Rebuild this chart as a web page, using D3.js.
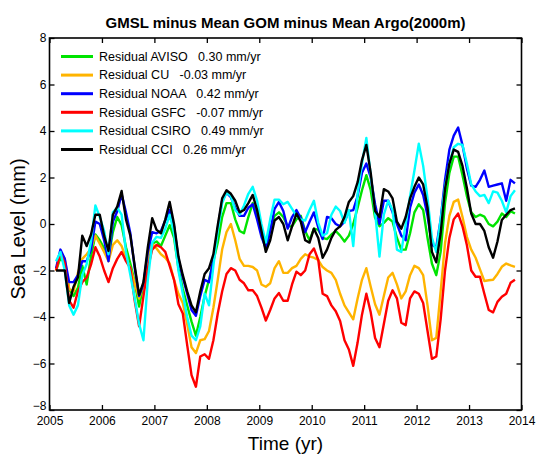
<!DOCTYPE html>
<html><head><meta charset="utf-8">
<script src="https://cdn.jsdelivr.net/npm/d3@7"></script>
<style>
body{margin:0;background:#fff}
svg{display:block}
text{font-family:"Liberation Sans",Arial,Helvetica,sans-serif;fill:#000}
</style>
</head><body>
<svg id="chart" width="536" height="454"></svg>
<script>
// ---- data (monthly, starting Feb 2005) ----
const startYear = 2005.125;
const seriesNames = ["AVISO", "CU", "NOAA", "GSFC", "CSIRO", "CCI"];
const trendLabels = ["0.30 mm/yr", "-0.03 mm/yr", "0.42 mm/yr", "-0.07 mm/yr", "0.49 mm/yr", "0.26 mm/yr"];
const seriesColors = ["#00e400", "#ffb400", "#0000ff", "#ff0000", "#00ffff", "#000000"];

const aviso = [-2.0,-1.45,-1.7,-2.8,-3.1,-2.75,-1.8,-2.6,-1.4,-0.45,
  -0.7,-1.05,-1.45,-0.35,0.3,-0.05,-1.0,-1.7,-2.5,-3.55,
  -2.6,-1.4,-0.85,-0.75,-0.95,-0.5,-0.05,-0.6,-1.9,-2.8,
  -3.5,-4.2,-4.8,-4.0,-3.1,-2.4,-1.6,-0.8,0.3,0.9,
  0.9,0.2,-0.3,-0.4,0.3,0.9,0.4,-0.2,-0.95,-0.2,
  0.35,0.5,0.3,-0.1,-0.1,0.2,0.35,-0.3,-0.7,-0.2,
  -0.25,-0.6,-0.65,-0.45,-0.3,-0.5,-0.75,-0.5,0.0,0.7,
  1.45,2.1,1.45,0.27,-0.1,0.05,0.25,0.1,-0.6,-1.1,
  -1.1,-0.4,0.5,0.85,0.6,-0.6,-1.7,-2.2,-1.2,0.9,
  2.2,2.9,2.9,2.1,1.2,0.5,0.3,0.4,0.32,0.0,
  -0.1,0.1,0.45,0.3,0.55,0.45];

const cu = [-2.0,-1.2,-1.5,-2.8,-2.9,-2.1,-1.5,-1.3,-1.05,-0.5,
  -0.85,-1.2,-1.6,-0.9,-0.7,-0.95,-1.45,-1.9,-2.55,-3.2,
  -2.6,-1.4,-0.85,-1.05,-1.3,-1.45,-1.7,-2.4,-3.0,-3.4,
  -4.3,-5.3,-5.55,-5.0,-4.95,-4.6,-3.6,-2.4,-1.1,-0.35,
  0.0,-0.7,-1.5,-1.8,-1.8,-1.85,-2.0,-2.6,-2.7,-2.55,
  -1.9,-1.6,-2.1,-2.1,-1.9,-1.8,-1.5,-1.3,-1.4,-1.45,
  -1.55,-1.85,-2.0,-2.1,-2.4,-3.0,-3.5,-3.8,-4.1,-3.2,
  -2.4,-1.9,-2.7,-3.45,-3.9,-3.1,-2.3,-2.1,-2.6,-3.2,
  -2.9,-2.2,-1.8,-1.9,-2.2,-3.5,-5.0,-4.9,-2.9,-0.83,
  0.35,0.95,1.05,0.3,-0.55,-1.1,-1.45,-1.95,-2.45,-2.42,
  -2.4,-2.15,-1.84,-1.7,-1.78,-1.84];

const noaa = [-1.9,-1.1,-1.5,-2.5,-2.5,-2.2,-1.6,-1.6,-1.1,0.1,
  0.0,-0.7,-1.6,0.1,0.55,1.28,0.5,-0.4,-1.9,-3.1,
  -2.6,-1.2,-0.35,-0.4,-0.3,0.15,0.6,-0.1,-1.5,-2.3,
  -3.0,-3.7,-3.95,-3.1,-2.4,-2.5,-1.5,-0.2,1.0,1.35,
  1.15,0.7,0.35,0.35,0.7,0.85,0.2,-0.55,-1.05,-0.3,
  0.65,0.95,0.56,-0.2,0.3,0.6,0.25,-0.35,0.1,0.5,
  -0.15,-0.65,0.3,0.25,0.0,-0.1,0.1,0.55,0.6,1.2,
  2.2,2.6,2.0,0.85,0.0,1.0,1.0,0.5,0.0,-0.5,
  -0.7,0.7,1.35,1.7,1.25,0.35,-0.9,-1.0,0.2,1.9,
  3.2,3.8,4.15,3.4,2.4,1.65,1.6,1.9,2.3,1.6,
  1.65,1.7,1.75,1.0,1.9,1.75];

const gsfc = [-2.0,-1.25,-1.7,-3.3,-3.6,-2.9,-2.5,-2.3,-1.75,-1.0,
  -1.4,-2.0,-2.5,-1.9,-1.5,-1.2,-1.6,-1.9,-3.3,-4.4,
  -3.1,-1.9,-1.1,-0.9,-1.0,-1.2,-1.8,-2.4,-3.45,-3.85,
  -5.2,-6.5,-7.0,-5.7,-5.6,-5.8,-5.0,-3.85,-2.9,-2.15,
  -1.9,-2.0,-2.4,-2.55,-2.85,-2.85,-3.1,-3.6,-4.15,-3.7,
  -3.2,-2.97,-3.3,-3.3,-2.6,-2.05,-2.2,-2.0,-1.3,-1.05,
  -1.55,-3.0,-3.1,-3.5,-3.75,-4.17,-5.0,-5.4,-6.1,-5.1,
  -3.9,-3.0,-3.8,-4.9,-5.3,-4.3,-3.3,-2.85,-3.2,-4.25,
  -4.35,-3.2,-2.9,-3.0,-3.4,-4.6,-5.8,-5.7,-4.1,-2.0,
  -0.6,0.2,0.45,-0.1,-0.9,-2.0,-2.27,-2.27,-3.0,-3.7,
  -3.8,-3.35,-3.13,-3.0,-2.53,-2.4];

const csiro = [-1.6,-1.2,-2.0,-3.5,-3.9,-3.5,-2.2,-1.73,-0.75,0.8,
  0.3,-0.3,-1.3,0.5,0.7,0.4,-1.2,-2.2,-3.2,-4.3,
  -5.0,-2.4,-0.8,-0.55,-0.6,-0.2,0.4,-0.4,-2.0,-3.0,
  -4.0,-4.8,-5.0,-4.4,-3.0,-3.5,-1.8,-0.3,0.9,1.35,
  1.2,0.6,0.4,0.8,1.3,1.6,1.0,0.0,-0.8,0.2,
  1.05,1.05,0.85,0.95,0.65,0.35,0.2,0.15,0.6,1.0,
  0.05,-0.5,-0.4,0.4,0.75,0.56,0.05,0.6,-0.95,1.3,
  2.6,3.7,2.1,0.5,-1.4,0.4,1.0,0.6,-1.1,-1.2,
  0.0,1.2,2.3,3.45,2.5,1.1,-0.6,-1.2,0.2,1.6,
  2.6,3.3,3.45,3.4,2.6,1.7,1.4,1.2,1.25,0.9,
  1.4,1.35,1.0,0.5,1.2,1.45];

const cci = [-2.0,-2.0,-2.0,-3.4,-2.7,-2.3,-0.5,-0.95,-0.45,0.4,
  0.4,-0.5,-1.16,0.4,0.75,1.42,0.2,-0.5,-1.8,-3.05,
  -2.5,-1.0,0.25,-0.25,-0.4,0.2,0.95,0.0,-1.4,-2.2,
  -2.9,-3.5,-3.8,-2.9,-2.15,-1.9,-1.3,-0.05,1.1,1.45,
  1.3,1.0,0.5,0.6,0.9,1.25,0.6,-0.3,-1.2,-0.7,
  0.15,0.3,0.0,-0.7,-0.1,0.45,0.1,-0.7,-0.8,-0.2,
  -0.6,-1.45,-1.1,-0.6,-0.25,-0.1,0.3,0.95,1.2,1.8,
  2.75,3.4,2.2,0.56,0.3,1.5,1.4,1.1,0.1,-0.2,
  0.3,1.1,1.6,2.0,1.7,0.7,-1.2,-1.65,-0.4,1.5,
  2.6,3.2,3.1,2.5,1.55,0.45,0.0,0.0,-0.3,-1.0,
  -1.45,-0.75,0.17,0.4,0.6,0.67];

const xTickValues = [2005,2006,2007,2008,2009,2010,2011,2012,2013,2014];
const yTickValues = [-8,-6,-4,-2,0,2,4,6,8];
const titleText = "GMSL minus Mean GOM minus Mean Argo(2000m)";
const xLabel = "Time (yr)";
const yLabel = "Sea Level (mm)";

// ---- chart ----
const allSeries = [aviso, cu, noaa, gsfc, csiro, cci];
const L = 49.5, R = 521.5, T = 38, B = 410;
const svg = d3.select("#chart");
const x = d3.scaleLinear().domain([2005, 2014]).range([L, R]);
const y = d3.scaleLinear().domain([-8, 8]).range([B, T]);

svg.append("defs").append("clipPath").attr("id","clip")
  .append("rect").attr("x",L).attr("y",T).attr("width",R-L).attr("height",B-T);

const line = d3.line()
  .x((d,i) => x(startYear + i/12))
  .y(d => y(d));

const g = svg.append("g").attr("clip-path","url(#clip)");
allSeries.forEach((s, k) => {
  g.append("path").datum(s)
    .attr("d", line)
    .attr("fill","none")
    .attr("stroke", seriesColors[k])
    .attr("stroke-width", 2.4)
    .attr("stroke-linejoin","round");
});

// axes (inward ticks, box)
const tk = 5;
const axB = svg.append("g").attr("transform",`translate(0,${B})`)
  .call(d3.axisBottom(x).tickValues(xTickValues).tickFormat(d3.format("d")).tickSizeInner(-tk).tickSizeOuter(0).tickPadding(6));
const axT = svg.append("g").attr("transform",`translate(0,${T})`)
  .call(d3.axisTop(x).tickValues(xTickValues).tickFormat("").tickSizeInner(-tk).tickSizeOuter(0));
const axL = svg.append("g").attr("transform",`translate(${L},0)`)
  .call(d3.axisLeft(y).tickValues(yTickValues).tickFormat(d3.format("d")).tickSizeInner(-tk).tickSizeOuter(0).tickPadding(3));
const axR = svg.append("g").attr("transform",`translate(${R},0)`)
  .call(d3.axisRight(y).tickValues(yTickValues).tickFormat("").tickSizeInner(-tk).tickSizeOuter(0));
[axB, axT, axL, axR].forEach(a => {
  a.select(".domain").remove();
  a.selectAll(".tick line").attr("stroke","#000").attr("stroke-width",1.3);
  a.selectAll("text").attr("font-size","12px").attr("fill","#000")
    .style("font-family",'"Liberation Sans",Arial,sans-serif');
});
// lift the bottom-most y label slightly so it clears the first year label
axL.selectAll(".tick text").filter(d => d === -8).attr("dy","-0.05em");
svg.append("rect").attr("x",L).attr("y",T).attr("width",R-L).attr("height",B-T)
  .attr("fill","none").attr("stroke","#000").attr("stroke-width",1.6);

// title and labels
svg.append("text").attr("x",(L+R)/2).attr("y",28).attr("text-anchor","middle")
  .attr("font-size","15px").attr("font-weight","bold").text(titleText);
svg.append("text").attr("x",(L+R)/2).attr("y",450).attr("text-anchor","middle")
  .attr("font-size","19px").text(xLabel);
svg.append("text").attr("transform","translate(25,229) rotate(-90)").attr("text-anchor","middle")
  .attr("font-size","20px").text(yLabel);

// legend
const legY0 = 56.5, legDy = 18.6;
seriesNames.forEach((n, k) => {
  const yy = legY0 + k*legDy;
  svg.append("line").attr("x1",61).attr("x2",93).attr("y1",yy).attr("y2",yy)
    .attr("stroke",seriesColors[k]).attr("stroke-width",3);
  svg.append("text").attr("x",99).attr("y",yy+4.3).attr("font-size","12.5px")
    .style("white-space","pre").attr("xml:space","preserve")
    .text("Residual " + n + "   " + trendLabels[k]);
});
</script>
</body></html>
